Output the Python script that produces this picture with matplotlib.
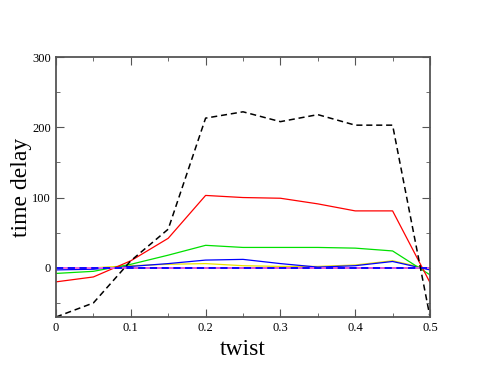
import matplotlib
matplotlib.use("Agg")
import matplotlib.pyplot as plt
from matplotlib.ticker import MultipleLocator

plt.rcParams['font.family'] = ['Liberation Serif', 'DejaVu Serif']

# twist values
twist = [0.0, 0.05, 0.1, 0.15, 0.2, 0.25, 0.3, 0.35, 0.4, 0.45, 0.5]

# time delay series
black = [-70, -50, 10, 55, 213, 222, 208, 218, 203, 203, -70]
red = [-20, -13, 10, 42, 103, 100, 99, 91, 81, 81, -21]
green = [-8, -5, 5, 18, 32, 29, 29, 29, 28, 24, -10]
blue = [-3, -2, 2, 6, 11, 12, 6, 1, 3, 9, -3]
yellow = [-1, 0, 3, 5, 6, 3, 2, 2, 4, 10, -2]
zero = [0] * len(twist)

fig = plt.figure(figsize=(4.84, 3.74), dpi=100)
ax = fig.add_axes([56 / 484, 57 / 374, 374 / 484, 260 / 374])

ax.plot(twist, zero, color='black', lw=1.2)
ax.plot(twist, yellow, color='#e8e000', lw=0.9)
ax.plot(twist, blue, color='blue', lw=0.9)
ax.plot(twist, green, color='#00e000', lw=0.9)
ax.plot(twist, red, color='red', lw=0.9)
ax.plot(twist, zero, color='#ff60ff', lw=1.2)
ax.plot(twist, zero, color='blue', lw=1.3, ls=(0, (4, 2.5)))
ax.plot(twist, black, color='black', lw=1.1, ls=(0, (4, 2.5)))

ax.set_xlim(0, 0.5)
ax.set_ylim(-70, 300)
ax.xaxis.set_major_locator(MultipleLocator(0.1))
ax.xaxis.set_minor_locator(MultipleLocator(0.05))
ax.yaxis.set_major_locator(MultipleLocator(100))
ax.yaxis.set_minor_locator(MultipleLocator(50))
ax.tick_params(which='both', direction='in', top=True, right=True, labelsize=9, color='#555555')
ax.tick_params(which='major', length=6)
ax.tick_params(which='minor', length=3)
ax.set_xticks([0, 0.1, 0.2, 0.3, 0.4, 0.5])
ax.set_xticklabels(['0', '0.1', '0.2', '0.3', '0.4', '0.5'])
for s in ax.spines.values():
    s.set_color('#555555')
    s.set_linewidth(1.3)

ax.set_xlabel('twist', fontsize=17, labelpad=4)
ax.set_ylabel('time delay', fontsize=17, labelpad=0)

fig.savefig('out.png', dpi=100)
